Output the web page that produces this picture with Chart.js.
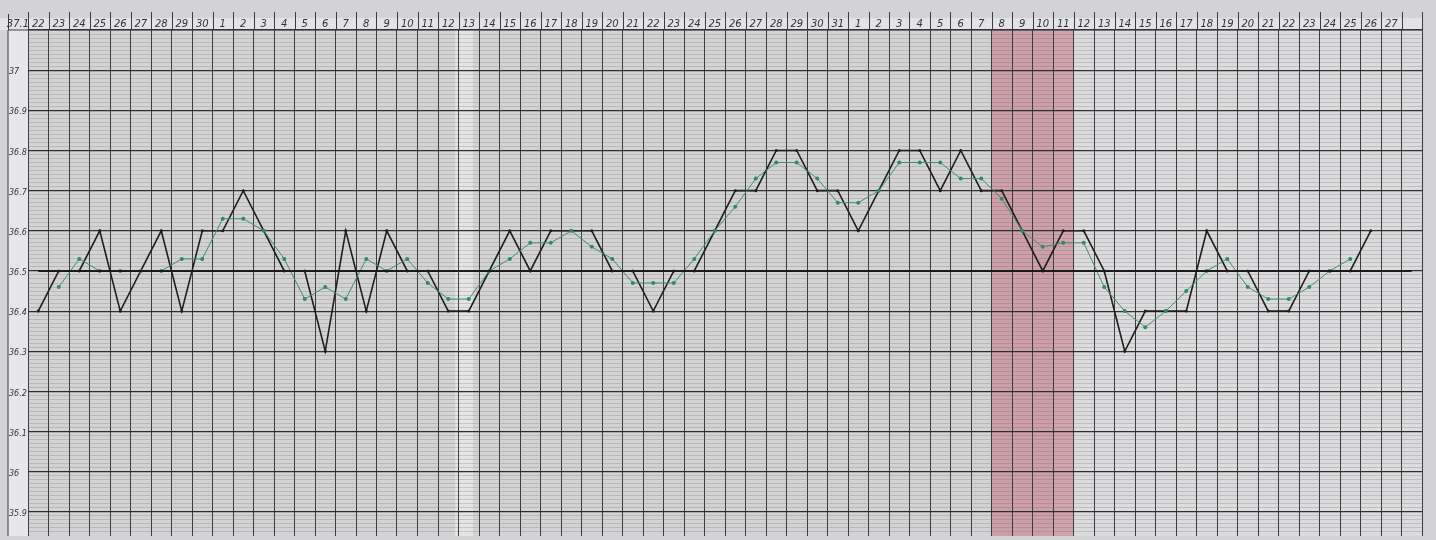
<!DOCTYPE html>
<html>
<head>
<meta charset="utf-8">
<script src="https://cdn.jsdelivr.net/npm/chart.js@4"></script>
<style>
html, body { margin: 0; padding: 0; background: #d3d3d5; }
#wrap { width: 1436px; height: 540px; }
</style>
</head>
<body>
<div id="wrap"><canvas id="bbt"></canvas></div>
<script>
"use strict";

// day columns
const days = ['22','23','24','25','26','27','28','29','30',
  '1','2','3','4','5','6','7','8','9','10','11','12','13','14','15','16','17','18','19','20',
  '21','22','23','24','25','26','27','28','29','30','31',
  '1','2','3','4','5','6','7','8','9','10','11','12','13','14','15','16','17','18','19','20',
  '21','22','23','24','25','26','27',''];

// daily temperature (black)
const dailyTemp = [36.4,36.5,36.5,36.6,36.4,36.5,36.6,36.4,36.6,
  36.6,36.7,36.6,36.5,36.5,36.3,36.6,36.4,36.6,36.5,36.5,36.4,36.4,36.5,36.6,36.5,36.6,36.6,36.6,36.5,
  36.5,36.4,36.5,36.5,36.6,36.7,36.7,36.8,36.8,36.7,36.7,
  36.6,36.7,36.8,36.8,36.7,36.8,36.7,36.7,36.6,36.5,36.6,36.6,36.5,36.3,36.4,36.4,36.4,36.6,36.5,36.5,
  36.4,36.4,36.5,36.5,36.5,36.6,null,null];

// running average (green)
const avgTemp = [null,36.46,36.53,36.5,36.5,36.5,36.5,36.53,36.53,
  36.63,36.63,36.6,36.53,36.43,36.46,36.43,36.53,36.5,36.53,36.47,36.43,36.43,36.5,36.53,36.57,36.57,36.6,36.56,36.53,
  36.47,36.47,36.47,36.53,36.6,36.66,36.73,36.77,36.77,36.73,36.67,
  36.67,36.7,36.77,36.77,36.77,36.73,36.73,36.68,36.6,36.56,36.57,36.57,36.46,36.4,36.36,36.4,36.45,36.5,36.53,36.46,
  36.43,36.43,36.46,36.5,36.53,null,null,null];

const baseLine = days.map(() => 36.5);

// y labels (0.1 steps)
const yLabels = ['37','36.9','36.8','36.7','36.6','36.5','36.4','36.3','36.2','36.1','36','35.9'];

// shaded days (index range)
const shadeFrom = 47, shadeTo = 50;

const yMin = 35.84, yMax = 37.1;
const yTicks = [];
for (let i = Math.ceil(yMin * 100); i <= Math.round(yMax * 100); i++) yTicks.push(i / 100);

const paper = {
  id: 'paper',
  beforeDraw(chart) {
    const c = chart.ctx, a = chart.chartArea, x = chart.scales.x;
    const w = x.getPixelForValue(1) - x.getPixelForValue(0);
    c.save();
    c.fillStyle = '#d3d3d5';
    c.fillRect(0, 0, chart.width, chart.height);
    c.fillStyle = '#e2e3e6';
    c.fillRect(0, 18, a.right, a.top - 18);
    c.fillStyle = '#dcdcdf';
    c.fillRect(x.getPixelForValue(49) + w / 2, a.top, a.right - x.getPixelForValue(49) - w / 2, a.bottom - a.top);
    c.fillStyle = 'rgba(235,235,235,0.7)';
    c.fillRect(455, a.top, 18, a.bottom - a.top);
    c.fillStyle = 'rgba(200,125,140,0.6)';
    c.fillRect(x.getPixelForValue(shadeFrom) - w / 2, a.top, w * (shadeTo - shadeFrom + 1), a.bottom - a.top);
    c.fillStyle = '#e6e7ea';
    c.fillRect(8, a.top, a.left - 8, a.bottom - a.top);
    c.restore();
  },
  afterDraw(chart) {
    const c = chart.ctx, a = chart.chartArea, x = chart.scales.x, y = chart.scales.y;
    const w = x.getPixelForValue(1) - x.getPixelForValue(0);
    c.save();
    c.strokeStyle = '#3c3c3c';
    c.lineWidth = 1;
    c.beginPath();
    c.moveTo(8, a.top); c.lineTo(a.right, a.top);
    c.moveTo(8, a.top); c.lineTo(8, a.bottom);
    for (let i = 0; i <= days.length; i++) {
      const px = Math.round(x.getPixelForValue(i) - w / 2) + 0.5;
      c.moveTo(px, 12); c.lineTo(px, a.top);
    }
    c.moveTo(8.5, 14); c.lineTo(8.5, a.top);
    c.stroke();
    c.fillStyle = '#333';
    c.textAlign = 'center';
    c.textBaseline = 'middle';
    c.font = 'italic 10px "DejaVu Sans"';
    days.forEach((d, i) => c.fillText(d, x.getPixelForValue(i), 24));
    c.fillText('37.1', (8 + a.left) / 2, 24);
    c.textAlign = 'left';
    c.textBaseline = 'bottom';
    c.font = 'italic 8px "DejaVu Sans"';
    yLabels.forEach(t => c.fillText(t, 9, y.getPixelForValue(parseFloat(t)) + 6));
    c.restore();
  }
};

new Chart(document.getElementById('bbt'), {
  type: 'line',
  data: {
    labels: days,
    datasets: [
      { label: 'base', data: baseLine, borderColor: '#1a1a1a', borderWidth: 2, pointRadius: 0 },
      { label: 'avg', data: avgTemp, borderColor: '#3f8f6c', borderWidth: 1, pointRadius: 2,
        pointBackgroundColor: '#2f8a60', pointBorderWidth: 0, spanGaps: false },
      { label: 'temp', data: dailyTemp, borderColor: '#1e1e1e', borderWidth: 1.6, pointRadius: 1.5,
        pointBackgroundColor: '#1e1e1e', pointBorderWidth: 0, spanGaps: false }
    ]
  },
  options: {
    responsive: true,
    maintainAspectRatio: false,
    animation: false,
    layout: { padding: { top: 30, right: 14, left: 28, bottom: 0 } },
    plugins: { legend: { display: false }, tooltip: { enabled: false } },
    scales: {
      x: {
        offset: true,
        grid: { offset: true, color: '#3c3c3c', lineWidth: 1, drawTicks: false },
        border: { display: false },
        ticks: { display: false, autoSkip: false }
      },
      y: {
        min: yMin, max: yMax,
        afterBuildTicks(s) { s.ticks = yTicks.map(v => ({ value: v })); },
        grid: {
          color: ctx => Math.round(ctx.tick.value * 100) % 10 === 0 ? '#2e2e2e' : 'rgba(80,80,80,0.35)',
          lineWidth: ctx => Math.round(ctx.tick.value * 100) % 10 === 0 ? 1.2 : 0.6,
          drawTicks: false
        },
        border: { display: false },
        ticks: { display: false }
      }
    }
  },
  plugins: [paper]
});
</script>
</body>
</html>
